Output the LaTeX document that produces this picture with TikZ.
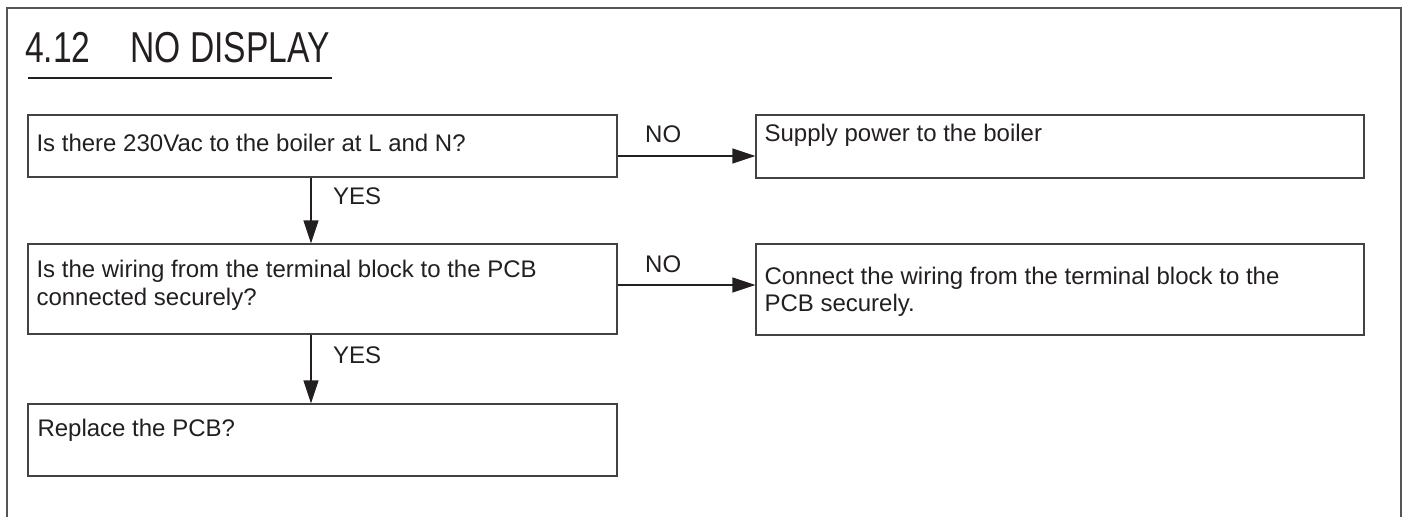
\documentclass[tikz,border=0pt]{standalone}
\usepackage{fontspec}
\setmainfont{Liberation Sans}
\usetikzlibrary{arrows.meta,calc}
\definecolor{ink}{HTML}{231F20}
\definecolor{framec}{HTML}{555555}
\tikzset{
  box/.style={draw=ink!85, line width=1.3pt, rectangle, inner sep=0pt},
  txt/.style={anchor=base west, inner sep=0pt, text=ink, font=\fontsize{24}{28}\selectfont},
  arr/.style={draw=ink, line width=1.3pt, -{Triangle[length=23pt,width=15pt]}},
}
\begin{document}
\begin{tikzpicture}[x=1pt,y=-1pt]
\useasboundingbox (0,0) rectangle (1403,517);
% frame
\draw[framec, line width=2pt] (7,517) -- (7,8) -- (1401,8) -- (1401,517);
% title
\node[anchor=base west, inner sep=0pt, text=ink] (title) at (25,62)
  {\scalebox{0.8}[1.03]{\fontsize{42}{48}\selectfont 4.12\hspace{50pt}NO DISPLAY}};
\draw[ink, line width=2pt] (28,78) -- (332,78);
% boxes
\node[box, minimum width=589pt, minimum height=62pt] (b1) at (322.5,146) {};
\node[box, minimum width=608pt, minimum height=63pt] (s1) at (1060,146.5) {};
\node[box, minimum width=589pt, minimum height=90pt] (b2) at (322.5,289) {};
\node[box, minimum width=608pt, minimum height=91pt] (s2) at (1060,289.5) {};
\node[box, minimum width=589pt, minimum height=72pt] (b3) at (322.5,440) {};
% box texts
\node[txt] (t1) at ($(b1.north west)+(9,37)$) {Is there 230Vac to the boiler at L and N?};
\node[txt] (t2) at ($(s1.north west)+(9,27)$) {Supply power to the boiler};
\node[txt] (t3) at ($(b2.north west)+(9,34)$) {Is the wiring from the terminal block to the PCB};
\node[txt] (t3b) at ($(b2.north west)+(9,62)$) {connected securely?};
\node[txt] (t4) at ($(s2.north west)+(9,41)$) {Connect the wiring from the terminal block to the};
\node[txt] (t4b) at ($(s2.north west)+(9,68)$) {PCB securely.};
\node[txt] (t5) at ($(b3.north west)+(10,33)$) {Replace the PCB?};
% connectors
\draw[arr] ($(b1.east)+(0,10)$) -- ($(s1.west)+(0,9.5)$);
\draw[arr] ($(b2.east)+(0,-4)$) -- ($(s2.west)+(0,-4.5)$);
\draw[arr] ($(b1.south)+(-11.5,0)$) -- ($(b2.north)+(-11.5,0)$);
\draw[arr] ($(b2.south)+(-11.5,0)$) -- ($(b3.north)+(-11.5,0)$);
% labels
\node[txt] (no1) at (645,142) {NO};
\node[txt] (no2) at (645,272) {NO};
\node[txt] (yes1) at (333,204) {YES};
\node[txt] (yes2) at (333,363) {YES};
\end{tikzpicture}
\end{document}
